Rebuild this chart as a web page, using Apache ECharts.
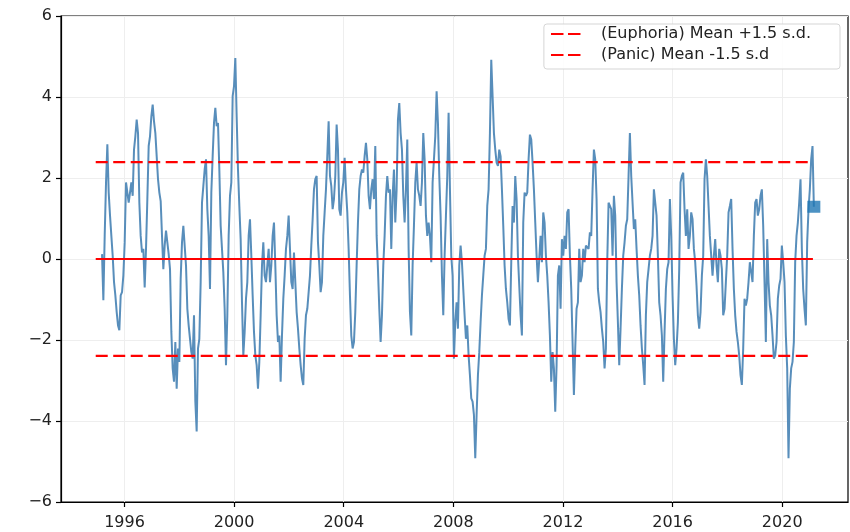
<!DOCTYPE html>
<html>
<head>
<meta charset="utf-8">
<script src="https://cdn.jsdelivr.net/npm/echarts@6/dist/echarts.min.js"></script>
<style>
  html, body { margin: 0; padding: 0; background: #fff; }
  #chart { width: 850px; height: 532px; }
</style>
</head>
<body>
<div id="chart"></div>
<script>
// sentiment z-score, one reading about every 18 days
var firstYear = 1995.18;
var yearStep = 0.04864;

var values1995 = [
  0.12, -1.02, 0.57, 1.89, 2.83, 1.64, 1.07, 0.57, 0.08, -0.57,
  -0.90, -1.31, -1.64, -1.76, -0.90, -0.82, -0.41, 0.41, 1.89, 1.89,
  1.39, 1.64, 1.89, 1.56, 2.70, 3.03, 3.44, 3.11, 1.39, 0.57,
  0.16, 0.25, -0.70, 0.25, 1.48, 2.79, 3.03, 3.52, 3.81, 3.40,
  3.11, 2.54, 1.97, 1.64, 1.43, 0.57, -0.25, 0.33, 0.70, 0.41,
  0.12, -0.25, -1.80, -2.70, -3.03, -2.05, -3.20, -2.21, -2.54, -0.49,
  0.41, 0.82, 0.82, -0.16, -1.23, -1.64, -1.97, -2.30, -2.46, -1.39,
  -3.52, -4.26, -2.21, -1.97, -0.57, 1.39, 1.80, 2.21, 2.46, 1.23,
  0.57, -0.74, 1.64, 2.54, 3.36, 3.73, 3.28, 3.36, 2.21, 0.82,
  0.25, -0.33, -1.23, -2.62, -1.39, 0.57, 1.56, 1.89, 4.02, 4.26,
  4.96, 3.52, 2.21, 1.31, 0.49, -1.07
];
var values2000 = [
  -2.38, -1.80, -0.98, -0.57, 0.57, 0.98, 0.08, -0.90, -1.80, -2.38,
  -2.62, -3.20, -2.54, -1.39, -0.16, 0.41, -0.41, -0.57, -0.16, 0.25,
  -0.57, -0.16, 0.57, 0.90, -0.16, -1.39, -2.05, -1.89, -3.03, -1.89,
  -0.98, -0.41, 0.25, 0.57, 1.07, 0.25, -0.57, -0.74, 0.16, -0.57,
  -1.31, -1.72, -2.21, -2.62, -2.95, -3.11, -1.97, -1.39, -1.23, -1.23,
  -0.41, 0.33, 0.98, 1.72, 1.97, 2.05, 0.41, -0.16, -0.82, -0.57,
  0.57, 1.15, 1.72, 2.54, 3.40, 2.05, 1.80, 1.23, 1.48, 2.05,
  3.32, 2.70, 1.23, 1.07, 1.64, 1.89, 2.50, 1.72, 1.15, 0.25,
  -0.90, -1.89, -2.21, -2.05, -1.31, -0.16, 0.90, 1.72, 2.05, 2.21,
  2.13, 2.54, 2.87, 2.46, 1.56, 1.23, 1.72, 1.97, 1.48, 2.79,
  0.57, -0.25, -1.23, -2.05, -1.39, -0.16, 0.57, 1.56, 2.05, 1.64, 1.72
];
var values2005 = [
  0.25, 1.56, 2.21, 0.90, 1.72, 3.44, 3.85, 3.11, 2.70, 1.56,
  0.90, 1.72, 2.95, 0.25, -1.31, -1.89, -0.16, 0.82, 1.89, 2.38,
  1.72, 1.56, 1.31, 1.89, 3.11, 2.46, 1.07, 0.57, 0.90, 0.57,
  -0.08, 1.89, 1.89, 3.03, 4.14, 3.36, 2.05, 1.07, -0.41, -1.39,
  0.08, 1.07, 2.05, 3.61, 1.72, 0.08, -0.41, -2.46, -1.56, -1.07,
  -1.72, -0.16, 0.33, -0.08, -0.74, -1.39, -1.97, -1.64, -2.38, -2.87,
  -3.44, -3.52, -3.85, -4.92, -3.85, -2.87, -2.30, -1.56, -0.90, -0.41,
  0.08, 0.25, 1.31, 1.72, 3.11, 4.92, 4.02, 3.11, 2.70, 2.38,
  2.30, 2.70, 2.54, 1.72, 0.82, -0.16, -0.74, -1.07, -1.48, -1.64,
  -0.08, 1.31, 0.90, 2.05, 1.48, 0.08, -0.66, -1.39, -1.89, 0.90,
  1.64, 1.56, 1.64, 2.46, 3.07, 2.95, 2.38, 1.72, 0.90, 0.08, -0.57
];
var values2011 = [
  -0.57, 0.57, -0.08, 1.15, 0.90, 0.08, -0.41, -1.07, -1.89, -3.03,
  -2.30, -2.70, -3.77, -2.62, -0.41, -0.16, -1.23, 0.49, 0.08, 0.57,
  0.25, 1.15, 1.23, 0.08, -0.74, -2.05, -3.36, -2.21, -1.23, -1.07,
  0.25, -0.57, -0.41, 0.25, -0.08, 0.33, 0.33, 0.25, 0.66, 0.57,
  1.72, 2.70, 2.46, 1.48, -0.74, -1.07, -1.31, -1.72, -2.05, -2.70,
  -2.21, -0.08, 1.39, 1.31, 1.23, 0.08, 1.56, 1.07, -0.57, -1.56,
  -2.62, -1.72, -0.74, 0.08, 0.41, 0.82, 0.98, 2.05, 3.11, 2.05,
  1.39, 0.74, 0.98, 0.25, -0.41, -0.90, -1.64, -2.21, -2.62, -3.11,
  -1.39, -0.57, -0.25, 0.08, 0.25, 0.57, 1.72, 1.39, 1.07, 0.08,
  -1.07, -1.39, -1.89, -3.03, -1.80, -0.74, -0.25, -0.08, 1.48, 0.57,
  -0.90, -1.97, -2.62, -2.21, -1.56, -0.25, 1.89, 2.05, 2.13, 1.23, 0.57
];
var values2016 = [
  1.23, 0.25, 0.57, 1.15, 0.98, 0.25, -0.08, -0.66, -1.39, -1.72,
  -1.31, -0.41, 0.08, 1.97, 2.46, 2.05, 1.31, 0.57, 0.08, -0.41,
  0.08, 0.49, -0.16, -0.57, 0.25, 0.08, -0.25, -1.39, -1.23, -0.57,
  0.08, 1.15, 1.31, 1.48, 0.25, -0.74, -1.39, -1.80, -2.05, -2.38,
  -2.87, -3.11, -2.21, -0.98, -1.15, -0.98, -0.57, -0.08, -0.08, -0.57,
  0.57, 1.39, 1.48, 1.07, 1.23, 1.56, 1.72, 0.82, -0.57, -2.05,
  0.49, -0.57, -1.15, -1.39, -1.89, -2.46, -2.38, -2.05, -0.98, -0.66,
  -0.49, 0.33, -0.08, -0.57, -1.89, -2.70, -4.92, -3.20, -2.70, -2.54,
  -2.05, -0.08, 0.57, 0.90, 1.39, 1.97, 0.25, -0.74, -1.23, -1.64,
  0.41, 1.23, 1.72, 2.46, 2.79, 1.29
];

var meanLevel = 0;
var euphoriaLevel = 2.39;
var panicLevel = -2.39;
var lineStart = 1994.95;
var lineEnd = 2021.12;
var yearTicks = [1996, 2000, 2004, 2008, 2012, 2016, 2020];

var euphoriaName = "(Euphoria) Mean +1.5 s.d.";
var panicName = "(Panic) Mean -1.5 s.d";

var allValues = values1995.concat(values2000, values2005, values2011, values2016);
var seriesData = allValues.map(function (v, i) {
  return [firstYear + i * yearStep, v];
});
var lastPoint = seriesData[seriesData.length - 1];

var font = "DejaVu Sans";
var myChart = echarts.init(document.getElementById("chart"));

var option = {
  animation: false,
  grid: {
    left: 61,
    right: 2,
    top: 16,
    bottom: 30,
    show: true,
    borderColor: "#000",
    borderWidth: 1.2,
  },
  legend: {
    data: [euphoriaName, panicName],
    orient: "vertical",
    right: 10,
    top: 24,
    padding: [2, 29, 6, 6],
    itemGap: 5,
    itemWidth: 30,
    itemHeight: 16,
    backgroundColor: "rgba(255,255,255,0.85)",
    borderColor: "#d5d5d5",
    borderWidth: 1,
    borderRadius: 3,
    itemStyle: { opacity: 0 },
    lineStyle: { width: 2.2, type: [12.5, 4.5] },
    textStyle: {
      fontFamily: font,
      fontSize: 16,
      lineHeight: 16,
      color: "#222",
      padding: [0, 0, 0, 15],
    },
  },
  xAxis: {
    type: "value",
    min: 1993.683,
    max: 2022.4,
    axisLine: { show: true, onZero: false, lineStyle: { color: "#000", width: 1.2 } },
    axisTick: {
      show: true,
      length: 5,
      customValues: yearTicks,
      lineStyle: { color: "#000", width: 1.2 },
    },
    axisLabel: {
      customValues: yearTicks,
      color: "#222",
      fontFamily: font,
      fontSize: 16,
      margin: 13,
      formatter: function (v) {
        return String(v);
      },
    },
    splitLine: { show: true, lineStyle: { color: "#eeeeee", width: 1 } },
  },
  yAxis: {
    type: "value",
    min: -6,
    max: 6,
    interval: 2,
    axisLine: { show: true, lineStyle: { color: "#000", width: 1.2 } },
    axisTick: { show: true, length: 5, lineStyle: { color: "#000", width: 1.2 } },
    axisLabel: {
      color: "#222",
      fontFamily: font,
      fontSize: 16,
      margin: 9,
      formatter: function (v) {
        return String(v).replace("-", "\u2212");
      },
    },
    splitLine: { show: true, lineStyle: { color: "#eeeeee", width: 1 } },
  },
  series: [
    {
      name: "sentiment",
      type: "line",
      data: seriesData,
      symbol: "none",
      z: 2,
      lineStyle: { color: "#4682b4", width: 2, opacity: 0.9 },
    },
    {
      name: "mean",
      type: "line",
      data: [[lineStart, meanLevel], [lineEnd, meanLevel]],
      symbol: "none",
      z: 3,
      lineStyle: { color: "#ff0000", width: 2.2 },
    },
    {
      name: euphoriaName,
      type: "line",
      data: [[lineStart, euphoriaLevel], [lineEnd, euphoriaLevel]],
      symbol: "none",
      color: "#ff0000",
      z: 3,
      lineStyle: { color: "#ff0000", width: 2.2, type: [12, 5.5] },
    },
    {
      name: panicName,
      type: "line",
      data: [[lineStart, panicLevel], [lineEnd, panicLevel]],
      symbol: "none",
      color: "#ff0000",
      z: 3,
      lineStyle: { color: "#ff0000", width: 2.2, type: [12, 5.5] },
    },
    {
      name: "latest",
      type: "scatter",
      data: [lastPoint],
      symbol: "rect",
      symbolSize: [13, 12],
      z: 4,
      itemStyle: { color: "#1f77b4" },
    },
  ],
};

myChart.setOption(option);
</script>
</body>
</html>
